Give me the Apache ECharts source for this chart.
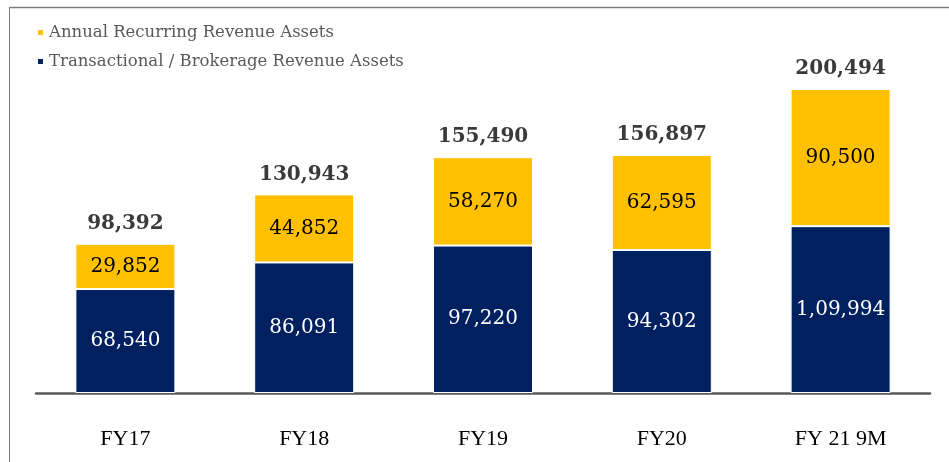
<!DOCTYPE html>
<html><head><meta charset="utf-8">
<script src="https://cdn.jsdelivr.net/npm/echarts@6/dist/echarts.min.js"></script>
<style>html,body{margin:0;padding:0;background:#fff}#c{width:949px;height:462px}</style>
</head><body><div id="c"></div>
<script>
const categories = ['FY17', 'FY18', 'FY19', 'FY20', 'FY 21 9M'];
const transactional = [68540, 86091, 97220, 94302, 109994];
const transactionalLabels = ['68,540', '86,091', '97,220', '94,302', '1,09,994'];
const recurring = [29852, 44852, 58270, 62595, 90500];
const recurringLabels = ['29,852', '44,852', '58,270', '62,595', '90,500'];
const totals = [98392, 130943, 155490, 156897, 200494];
const totalLabels = ['98,392', '130,943', '155,490', '156,897', '200,494'];

const serif = '"DejaVu Serif", "Liberation Serif", serif';
const serifNarrow = '"Liberation Serif", serif';
const chart = echarts.init(document.getElementById('c'));
chart.setOption({
  animation: false,
  graphic: [
    { type: 'line', shape: { x1: 9.5, y1: 7, x2: 9.5, y2: 462 }, style: { stroke: '#7f7f7f', lineWidth: 1 } },
    { type: 'line', shape: { x1: 9, y1: 7.5, x2: 949, y2: 7.5 }, style: { stroke: '#7f7f7f', lineWidth: 1.5 } }
  ],
  legend: {
    orient: 'vertical', left: 31, top: 19, itemGap: 12,
    itemWidth: 7, itemHeight: 7, icon: 'rect',
    textStyle: { fontFamily: serif, fontSize: 16.5, color: '#595959' },
    data: ['Annual Recurring Revenue Assets', 'Transactional / Brokerage Revenue Assets']
  },
  grid: { left: 36, right: 19, top: 29, bottom: 69 },
  xAxis: {
    type: 'category', data: categories,
    axisLine: { lineStyle: { color: '#595959', width: 2.5 } },
    axisTick: { show: false },
    axisLabel: { margin: 35, fontFamily: serifNarrow, fontSize: 22, color: '#000' }
  },
  yAxis: { type: 'value', min: 0, max: 240000, show: false, splitLine: { show: false } },
  series: [
    {
      name: 'Transactional / Brokerage Revenue Assets', type: 'bar', stack: 'a',
      data: transactional, barWidth: 100,
      itemStyle: { color: '#002060', borderColor: '#fff', borderWidth: 1 },
      label: { show: true, position: 'inside', color: '#fff', fontFamily: serif, fontSize: 20,
        formatter: p => transactionalLabels[p.dataIndex] }
    },
    {
      name: 'Annual Recurring Revenue Assets', type: 'bar', stack: 'a',
      data: recurring, barWidth: 100,
      itemStyle: { color: '#FFC000', borderColor: '#fff', borderWidth: 1 },
      label: { show: true, position: 'inside', color: '#000', fontFamily: serif, fontSize: 20,
        formatter: p => recurringLabels[p.dataIndex] }
    },
    {
      name: 'total', type: 'bar', stack: 'a', data: totals.map(() => 0), barWidth: 100,
      itemStyle: { color: 'transparent' }, silent: true,
      label: { show: true, position: 'top', distance: 10, color: '#3a3a3a', fontFamily: serif,
        fontSize: 20, fontWeight: 'bold', formatter: p => totalLabels[p.dataIndex] }
    }
  ]
});
</script></body></html>
